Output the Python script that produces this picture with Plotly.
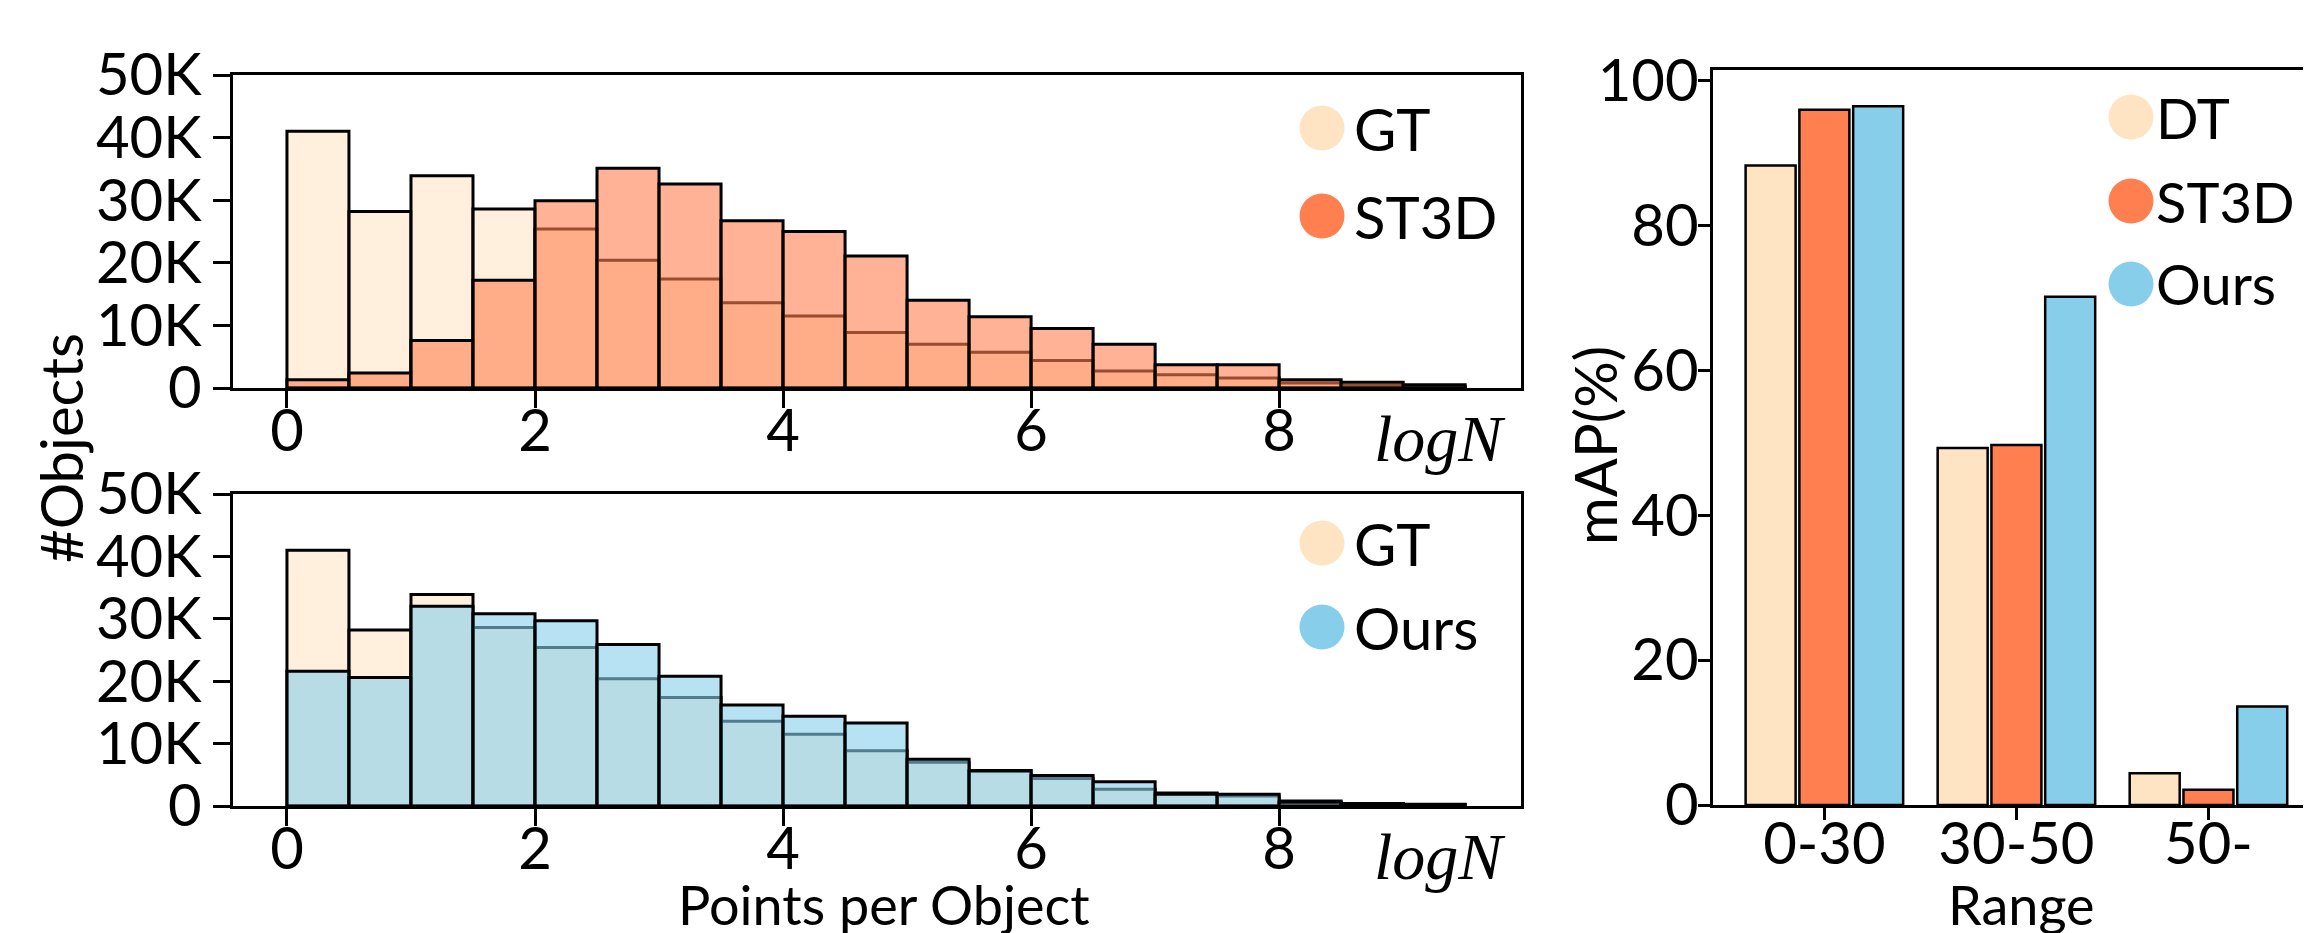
import plotly.graph_objects as go

W, H = 2311, 933

# ---------------- data ----------------
bin_left = [0.0, 0.5, 1.0, 1.5, 2.0, 2.5, 3.0, 3.5, 4.0, 4.5,
            5.0, 5.5, 6.0, 6.5, 7.0, 7.5, 8.0, 8.5, 9.0]
bin_width = 0.5
gt_counts = [41000, 28200, 33900, 28600, 25400, 20400, 17400, 13600, 11500, 8850,
             7000, 5700, 4400, 2700, 2100, 1600, 800, 400, 200]
st3d_counts = [1300, 2400, 7600, 17200, 29900, 35100, 32600, 26700, 25000, 21100,
               14000, 11400, 9500, 7000, 3700, 3700, 1300, 900, 500]
ours_counts = [21600, 20600, 32000, 30800, 29700, 25900, 20800, 16200, 14400, 13300,
               7500, 5600, 4900, 3900, 1900, 1900, 600, 400, 300]

ranges = ["0-30", "30-50", "50-"]
map_dt = [88.3, 49.3, 4.4]
map_st3d = [96.0, 49.7, 2.1]
map_ours = [96.5, 70.2, 13.6]

hist_xticks = [0, 2, 4, 6, 8]
hist_yticks = [0, 10000, 20000, 30000, 40000, 50000]
hist_yticktext = ["0", "10K", "20K", "30K", "40K", "50K"]
map_yticks = [0, 20, 40, 60, 80, 100]

# ---------------- style ----------------
FONT = "Lato"
FS = 58
C_GT_H = "rgba(255,228,196,0.6)"
C_ST3D_H = "rgba(255,127,80,0.6)"
C_OURS_H = "rgba(135,206,235,0.6)"
C_DT = "#FFE4C4"
C_ST3D = "#FF7F50"
C_OURS = "#87CEEB"
EDGE = dict(color="black", width=3)


def px_x(x):
    return x / W


def px_y(y):
    return 1 - y / H


fig = go.Figure()

# top histogram: GT vs ST3D
fig.add_trace(go.Bar(x=bin_left, y=gt_counts, width=bin_width, offset=0,
                     marker=dict(color=C_GT_H, line=EDGE), xaxis="x", yaxis="y", showlegend=False))
fig.add_trace(go.Bar(x=bin_left, y=st3d_counts, width=bin_width, offset=0,
                     marker=dict(color=C_ST3D_H, line=EDGE), xaxis="x", yaxis="y", showlegend=False))
# bottom histogram: GT vs Ours
fig.add_trace(go.Bar(x=bin_left, y=gt_counts, width=bin_width, offset=0,
                     marker=dict(color=C_GT_H, line=EDGE), xaxis="x2", yaxis="y2", showlegend=False))
fig.add_trace(go.Bar(x=bin_left, y=ours_counts, width=bin_width, offset=0,
                     marker=dict(color=C_OURS_H, line=EDGE), xaxis="x2", yaxis="y2", showlegend=False))
# right grouped bars
for vals, col in [(map_dt, C_DT), (map_st3d, C_ST3D), (map_ours, C_OURS)]:
    fig.add_trace(go.Bar(x=ranges, y=vals, marker=dict(color=col, line=dict(color="black", width=2.5)),
                         xaxis="x3", yaxis="y3", showlegend=False))

axis_common = dict(showline=True, linecolor="black", linewidth=2.5, mirror=True,
                   ticks="outside", tickcolor="black", tickwidth=2.5,
                   showgrid=False, zeroline=False, automargin=False,
                   tickfont=dict(family=FONT, size=FS, color="black"))

left_dom = [px_x(225), px_x(1513)]
fig.update_layout(
    width=W, height=H,
    margin=dict(l=0, r=0, t=0, b=0, autoexpand=False),
    paper_bgcolor="white", plot_bgcolor="white",
    showlegend=False,
    barmode="group", bargap=0.16, bargroupgap=0.07,
    font=dict(family=FONT, size=FS, color="black"),
    xaxis=dict(domain=left_dom, range=[-0.435, 9.95], tickvals=hist_xticks, ticklen=17,
               anchor="y", ticklabelstandoff=-26, **axis_common),
    yaxis=dict(domain=[px_y(380), px_y(67)], range=[0, 50000], tickvals=hist_yticks,
               ticktext=hist_yticktext, ticklen=17, anchor="x", ticklabelstandoff=0, **axis_common),
    xaxis2=dict(domain=left_dom, range=[-0.435, 9.95], tickvals=hist_xticks, ticklen=17,
                anchor="y2", ticklabelstandoff=-26, **axis_common),
    yaxis2=dict(domain=[px_y(798), px_y(486)], range=[0, 50000], tickvals=hist_yticks,
                ticktext=hist_yticktext, ticklen=17, anchor="x2", ticklabelstandoff=0, **axis_common),
    xaxis3=dict(domain=[px_x(1705), px_x(2308)], range=[-0.58, 2.56], type="category",
                ticklen=12, anchor="y3", ticklabelstandoff=-25, **axis_common),
    yaxis3=dict(domain=[px_y(797), px_y(62)], range=[0, 101.5], tickvals=map_yticks,
                ticklen=12, anchor="x3", ticklabelstandoff=-12, **axis_common),
)

annotations = []
shapes = []


def add_text(text, x, y, size=FS, xanchor="center", yanchor="middle", angle=0, family=FONT, italic=False):
    annotations.append(dict(
        text=f"<i>{text}</i>" if italic else text,
        x=px_x(x), y=px_y(y), xref="paper", yref="paper",
        xanchor=xanchor, yanchor=yanchor, textangle=angle, showarrow=False,
        font=dict(family=family, size=size, color="black")))


def add_legend(entries, cx, ys, tx, size):
    r = 22.5
    for (label, col), yy in zip(entries, ys):
        shapes.append(dict(type="circle", xref="paper", yref="paper",
                           x0=px_x(cx - r), x1=px_x(cx + r), y0=px_y(yy + r), y1=px_y(yy - r),
                           fillcolor=col, line=dict(width=0)))
        add_text(label, tx, yy, size=size, xanchor="left")


add_legend([("GT", C_DT), ("ST3D", C_ST3D)], 1314, [120, 208], 1344, FS)
add_legend([("GT", C_DT), ("Ours", C_OURS)], 1314, [535, 619], 1344, FS)
add_legend([("DT", C_DT), ("ST3D", C_ST3D), ("Ours", C_OURS)], 2123, [109, 193, 276], 2146, 56)

add_text("logN", 1432, 430, size=66, family="Liberation Serif", italic=True)
add_text("logN", 1432, 848, size=66, family="Liberation Serif", italic=True)
add_text("#Objects", 52, 440, angle=-90)
add_text("mAP(%)", 1586, 437, angle=-90)
add_text("Points per Object", 876, 931, size=54, yanchor="bottom")
add_text("Range", 2013, 931, size=54, yanchor="bottom")

fig.update_layout(annotations=annotations, shapes=shapes)

fig.write_html("out.html")
